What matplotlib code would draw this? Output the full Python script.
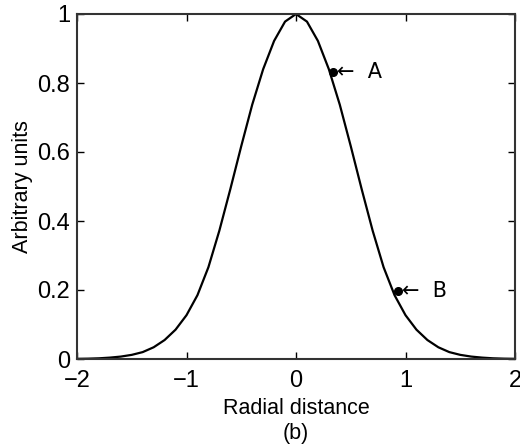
import matplotlib
matplotlib.use("Agg")
import matplotlib.pyplot as plt
import numpy as np

plt.rcParams['font.family'] = ['Liberation Sans', 'DejaVu Sans']

x_vals = [-2.0, -1.9, -1.8, -1.7, -1.6, -1.5, -1.4, -1.3, -1.2, -1.1, -1.0,
          -0.9, -0.8, -0.7, -0.6, -0.5, -0.4, -0.3, -0.2, -0.1, 0.0,
          0.1, 0.2, 0.3, 0.4, 0.5, 0.6, 0.7, 0.8, 0.9, 1.0,
          1.1, 1.2, 1.3, 1.4, 1.5, 1.6, 1.7, 1.8, 1.9, 2.0]
y_vals = [0.0005, 0.001, 0.002, 0.004, 0.007, 0.012, 0.020, 0.034, 0.055, 0.085, 0.127,
          0.185, 0.266, 0.372, 0.492, 0.617, 0.737, 0.840, 0.922, 0.978, 1.000,
          0.978, 0.922, 0.840, 0.737, 0.617, 0.492, 0.372, 0.266, 0.185, 0.127,
          0.085, 0.055, 0.034, 0.020, 0.012, 0.007, 0.004, 0.002, 0.001, 0.0005]

# Marked points
pt_labels = ["A", "B"]
pt_x = [0.335, 0.93]
pt_y = [0.833, 0.198]

x_ticks = [-2, -1, 0, 1, 2]
y_ticks = [0, 0.2, 0.4, 0.6, 0.8, 1]
y_tick_labels = ["0", "0.2", "0.4", "0.6", "0.8", "1"]

W, H = 520, 446
fig = plt.figure(figsize=(W/100, H/100), dpi=100)
ax = fig.add_axes([77/W, 87/H, 438/W, 345/H])

ax.plot(x_vals, y_vals, color='black', lw=1.6)
ax.plot(pt_x, pt_y, 'o', color='black', ms=5.5)
for lbl, px, py in zip(pt_labels, pt_x, pt_y):
    ax.text(px + 0.035, py, "\u2190  " + lbl, fontsize=15, va='center', ha='left',
            family=['DejaVu Sans'])

ax.set_xlim(-2, 2)
ax.set_ylim(0, 1)
ax.set_xticks(x_ticks)
ax.set_xticklabels([("\u2212" + str(abs(t))) if t < 0 else str(t) for t in x_ticks])
ax.set_yticks(y_ticks)
ax.set_yticklabels(y_tick_labels)
ax.tick_params(direction='in', length=5, width=1, top=True, right=True,
               labelsize=17)
ax.tick_params(axis='x', pad=8)
ax.tick_params(axis='y', pad=5)
for s in ax.spines.values():
    s.set_linewidth(1.5)
    s.set_color('#333333')

ax.set_xlabel("Radial distance", fontsize=15.5, labelpad=4)
fig.text(296/W, 1 - 433/H, "(b)", fontsize=15.5, ha='center', va='center')
ax.set_ylabel("Arbitrary units", fontsize=15.5, labelpad=3)

fig.savefig("out.png", dpi=100)
